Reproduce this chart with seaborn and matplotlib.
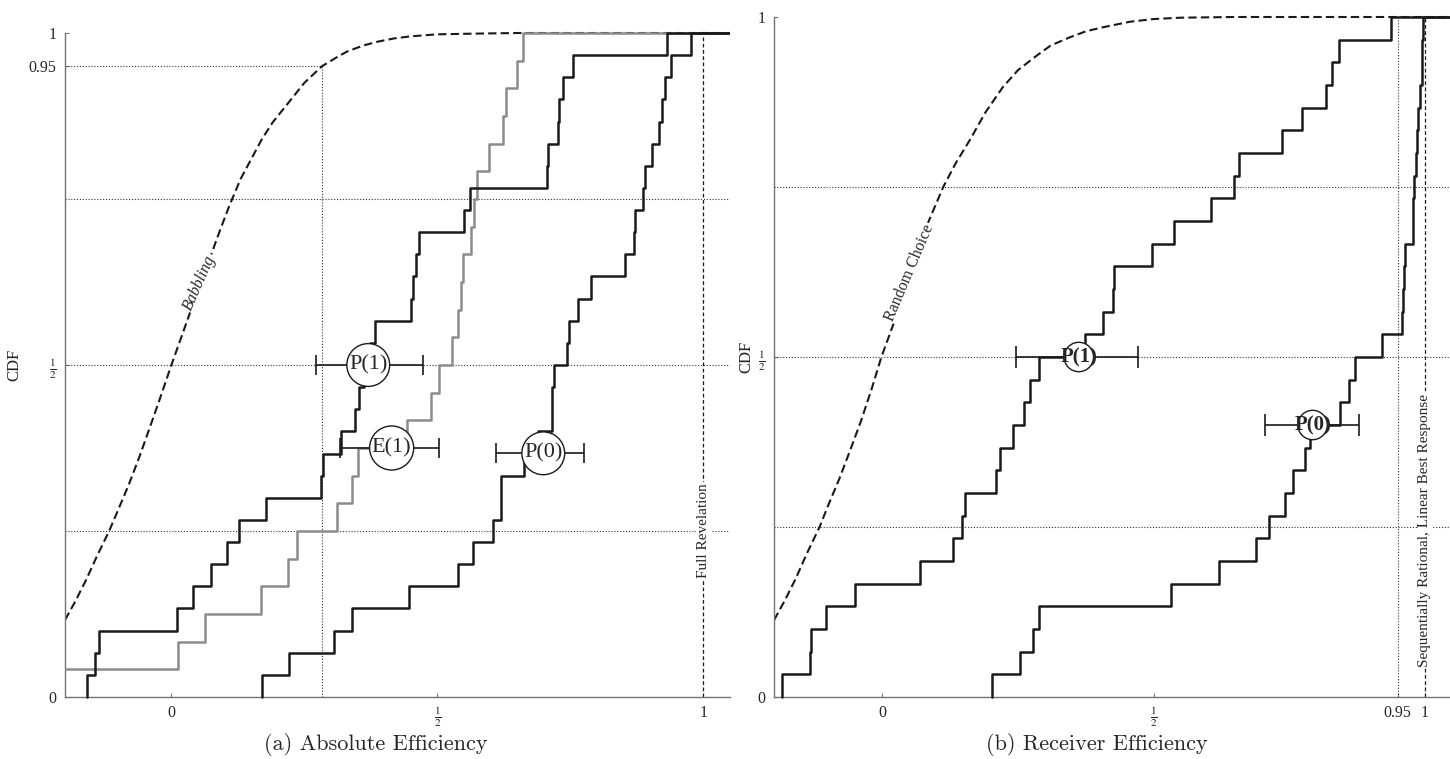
import numpy as np
import matplotlib
matplotlib.use("Agg")
import matplotlib.pyplot as plt
import seaborn as sns
from matplotlib.transforms import Bbox, TransformedBbox

# ---------------- data: (a) Absolute Efficiency ----------------
abs_p1 = [-0.158, -0.143, -0.137, 0.011, 0.041, 0.075, 0.104, 0.128, 0.177, 0.282,
          0.285, 0.318, 0.345, 0.353, 0.362, 0.373, 0.382, 0.450, 0.454, 0.459,
          0.465, 0.550, 0.561, 0.706, 0.708, 0.726, 0.728, 0.737, 0.754, 0.931]
abs_e1 = [-0.25, 0.012, 0.063, 0.168, 0.219, 0.236, 0.312, 0.340, 0.350, 0.443,
          0.488, 0.503, 0.527, 0.539, 0.544, 0.549, 0.564, 0.569, 0.574, 0.597,
          0.624, 0.629, 0.649, 0.660]
abs_p0 = [0.171, 0.221, 0.306, 0.340, 0.447, 0.539, 0.566, 0.605, 0.619, 0.620,
          0.662, 0.690, 0.715, 0.716, 0.719, 0.743, 0.748, 0.765, 0.789, 0.853,
          0.870, 0.872, 0.886, 0.891, 0.903, 0.917, 0.922, 0.928, 0.940, 0.977]
babbling_x = [-0.20, -0.18, -0.16, -0.14, -0.117, -0.10, -0.08, -0.06, -0.041, -0.02,
              0.0, 0.02, 0.04, 0.06, 0.072, 0.09, 0.109, 0.13, 0.15, 0.17, 0.19,
              0.21, 0.23, 0.25, 0.283, 0.31, 0.33, 0.36, 0.388, 0.42, 0.45, 0.50,
              0.566, 0.65, 1.05]
babbling_y = [0.116, 0.145, 0.177, 0.212, 0.25, 0.282, 0.32, 0.362, 0.405, 0.453,
              0.50, 0.545, 0.59, 0.635, 0.66, 0.70, 0.74, 0.78, 0.81, 0.84, 0.865,
              0.885, 0.905, 0.925, 0.95, 0.963, 0.972, 0.981, 0.987, 0.992, 0.995, 0.998,
              0.999, 1.0, 1.0]
abs_marker_labels = ["P(1)", "E(1)", "P(0)"]
abs_marker_x = [0.370, 0.414, 0.699]
abs_marker_y = [0.50, 0.375, 0.367]
abs_marker_lo = [0.271, 0.316, 0.611]
abs_marker_hi = [0.473, 0.503, 0.776]
abs_cross_x = 0.283      # babbling reaches 0.95 here
abs_cross_y = 0.95

# ---------------- data: (b) Receiver Efficiency ----------------
rec_p1 = [-0.185, -0.134, -0.131, -0.105, -0.051, 0.070, 0.130, 0.147, 0.152, 0.210,
          0.216, 0.241, 0.261, 0.272, 0.289, 0.373, 0.406, 0.425, 0.427, 0.496,
          0.538, 0.605, 0.649, 0.658, 0.736, 0.773, 0.817, 0.828, 0.841, 0.937]
rec_p0 = [0.201, 0.253, 0.278, 0.289, 0.532, 0.620, 0.688, 0.713, 0.742, 0.757,
          0.779, 0.789, 0.843, 0.860, 0.871, 0.921, 0.957, 0.959, 0.961, 0.963,
          0.978, 0.979, 0.980, 0.983, 0.986, 0.988, 0.991, 0.994, 0.995, 0.997]
random_x = [-0.20, -0.18, -0.16, -0.14, -0.116, -0.10, -0.08, -0.06, -0.04, -0.02,
            -0.002, 0.02, 0.05, 0.08, 0.112, 0.135, 0.161, 0.19, 0.222, 0.25, 0.284,
            0.31, 0.345, 0.375, 0.407, 0.456, 0.50, 0.55, 0.65, 1.05]
random_y = [0.113, 0.142, 0.174, 0.21, 0.25, 0.282, 0.32, 0.362, 0.405, 0.453,
            0.50, 0.548, 0.62, 0.69, 0.75, 0.785, 0.819, 0.86, 0.897, 0.922, 0.943,
            0.958, 0.97, 0.979, 0.985, 0.993, 0.997, 0.999, 1.0, 1.0]
rec_marker_labels = ["P(1)", "P(0)"]
rec_marker_x = [0.362, 0.793]
rec_marker_y = [0.50, 0.40]
rec_marker_lo = [0.247, 0.705]
rec_marker_hi = [0.471, 0.879]

grid_levels = [0.25, 0.5, 0.75]
X_MIN, X_MAX = -0.2, 1.05

# ---------------- style ----------------
sns.set_theme(style="white")
plt.rcParams["font.family"] = ["Liberation Serif", "DejaVu Serif"]
plt.rcParams["mathtext.fontset"] = "stix"

fig = plt.figure(figsize=(14.5, 7.59), dpi=100)
axL = fig.add_axes([65 / 1450, 62 / 759, 665 / 1450, 664 / 759])
axR = fig.add_axes([774 / 1450, 62 / 759, 678 / 1450, 680 / 759])

HALF = r"$\frac{1}{2}$"
DOT = (0, (1, 1.6))


def relax_clip(ax, line):
    line.set_clip_path(None)
    line.set_clip_box(TransformedBbox(Bbox([[0, -0.02], [1, 1.02]]), ax.transAxes))


def ecdf(ax, data, color):
    sns.ecdfplot(x=data, ax=ax, color=color, linewidth=1.8, zorder=3)
    line = ax.lines[-1]
    x, y = line.get_data()
    line.set_data(np.r_[x, X_MAX], np.r_[y, 1.0])
    relax_clip(ax, line)


def smooth(ax, xs, ys):
    sns.lineplot(x=xs, y=ys, ax=ax, color="k", linewidth=1.5, zorder=2,
                 linestyle=(0, (4, 2)))
    relax_clip(ax, ax.lines[-1])


def style_axes(ax):
    ax.set_xlim(X_MIN, X_MAX)
    ax.set_ylim(0, 1)
    sns.despine(ax=ax)
    for s in ("left", "bottom"):
        ax.spines[s].set_color("0.45")
        ax.spines[s].set_linewidth(1.0)
    ax.tick_params(direction="in", length=3, width=0.8, color="0.45",
                   labelsize=11.5, pad=6, left=True, bottom=True)
    ax.grid(False)


def marker(ax, x, y, lo, hi, label, bold, capsize, fs, pad):
    ax.errorbar([x], [y], xerr=[[x - lo], [hi - x]], fmt="none", ecolor="0.1",
                elinewidth=1.2, capsize=capsize, capthick=1.2, zorder=4)
    ax.text(x, y, label, ha="center", va="center", fontsize=fs,
            fontweight="bold" if bold else "normal", zorder=6,
            bbox=dict(boxstyle=f"circle,pad={pad}", fc="white", ec="k", lw=1.0))


# ---------------- (a) ----------------
ax = axL
for lv in grid_levels:
    ax.axhline(lv, color="0.2", lw=0.8, ls=DOT, zorder=1)
ax.hlines(abs_cross_y, X_MIN, abs_cross_x, color="0.2", lw=0.8, ls=DOT, zorder=1)
ax.vlines(abs_cross_x, 0, abs_cross_y, color="0.2", lw=0.8, ls=DOT, zorder=1)
ax.axvline(1.0, color="k", lw=0.9, ls=(0, (3, 2)), zorder=1)
smooth(ax, babbling_x, babbling_y)
ecdf(ax, abs_e1, "0.55")
ecdf(ax, abs_p0, "k")
ecdf(ax, abs_p1, "k")
for x, y, lo, hi, lab in zip(abs_marker_x, abs_marker_y, abs_marker_lo,
                             abs_marker_hi, abs_marker_labels):
    marker(ax, x, y, lo, hi, lab, False, 7, 16, 0.1)
ax.text(0.052, 0.624, "Babbling", rotation=66, ha="center", va="center",
        fontsize=11.5, fontstyle="italic", zorder=5,
        bbox=dict(fc="white", ec="none", pad=1))
ax.text(1.0, 0.25, "Full Revelation", rotation=90, ha="center", va="center",
        fontsize=11, zorder=5, bbox=dict(fc="white", ec="none", pad=1))
style_axes(ax)
ax.set_xticks([0, 0.5, 1])
ax.set_xticklabels(["0", HALF, "1"])
ax.set_yticks([0, 0.5, 0.95, 1])
ax.set_yticklabels(["0", HALF, "0.95", "1"])
ax.set_ylabel("CDF", fontsize=12)
ax.yaxis.set_label_coords(-0.064, 0.5)
ax.set_xlabel("")

# ---------------- (b) ----------------
ax = axR
for lv in grid_levels:
    ax.axhline(lv, color="0.2", lw=0.8, ls=DOT, zorder=1)
ax.axvline(0.95, color="0.2", lw=0.8, ls=DOT, zorder=1)
ax.axvline(1.0, color="k", lw=0.9, ls=(0, (3, 2)), zorder=1)
smooth(ax, random_x, random_y)
ecdf(ax, rec_p0, "k")
ecdf(ax, rec_p1, "k")
for x, y, lo, hi, lab in zip(rec_marker_x, rec_marker_y, rec_marker_lo,
                             rec_marker_hi, rec_marker_labels):
    marker(ax, x, y, lo, hi, lab, True, 8, 15, -0.18)
ax.text(0.050, 0.624, "Random Choice", rotation=67, ha="center", va="center",
        fontsize=11.5, zorder=5, bbox=dict(fc="white", ec="none", pad=1))
ax.text(1.0, 0.245, "Sequentially Rational, Linear Best Response", rotation=90,
        ha="center", va="center", fontsize=11, zorder=5,
        bbox=dict(fc="white", ec="none", pad=1))
style_axes(ax)
ax.set_xticks([0, 0.5, 0.95, 1])
ax.set_xticklabels(["0", HALF, "0.95", "1"])
ax.set_yticks([0, 0.5, 1])
ax.set_yticklabels(["0", HALF, "1"])
ax.set_ylabel("CDF", fontsize=12)
ax.yaxis.set_label_coords(-0.029, 0.5)
ax.set_xlabel("")

# ---------------- captions ----------------
fig.text(376 / 1450, 1 - 745 / 759, "(a) Absolute Efficiency", ha="center",
         va="center", fontsize=16, family="cmr10")
fig.text(1097 / 1450, 1 - 745 / 759, "(b) Receiver Efficiency", ha="center",
         va="center", fontsize=16, family="cmr10")

fig.savefig("out.png", dpi=100)
